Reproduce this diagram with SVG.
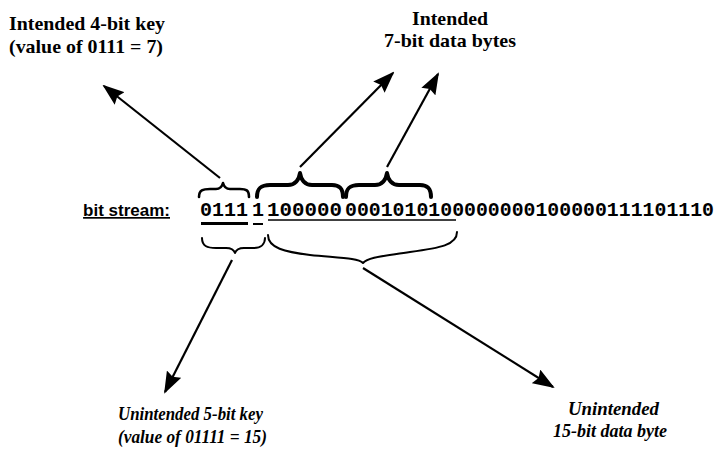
<svg xmlns="http://www.w3.org/2000/svg" width="718" height="452" viewBox="0 0 718 452">
<style>
.lbl{font-family:"Liberation Serif","Times New Roman",serif;font-weight:bold;font-size:19px;fill:#000}
.it{font-style:italic;font-size:18px}
.bits{font-family:"Liberation Mono","Courier New",monospace;font-weight:bold;font-size:20px;fill:#000}
.bs{font-family:"Liberation Sans",Arial,sans-serif;font-weight:bold;font-size:17px;fill:#000;text-decoration:underline}
.br{fill:none;stroke:#000;stroke-linecap:round;stroke-linejoin:round}
.ar{fill:none;stroke:#000;stroke-width:2.2;marker-end:url(#ah)}
.ul{stroke:#000;fill:none}
</style>
<defs>
<marker id="ah" markerUnits="userSpaceOnUse" markerWidth="22" markerHeight="16" viewBox="0 0 22 16" refX="20" refY="8" orient="auto">
<path d="M0,0 L22,8 L0,16 L3,8 Z" fill="#000"/>
</marker>
</defs>
<g id="label-intended-key">
<text class="lbl" x="9" y="30" textLength="156" lengthAdjust="spacingAndGlyphs">Intended 4-bit key</text>
<text class="lbl" x="9" y="53" textLength="154" lengthAdjust="spacingAndGlyphs">(value of 0111 = 7)</text>
</g>
<g id="label-intended-data">
<text class="lbl" x="412" y="25" textLength="76" lengthAdjust="spacingAndGlyphs">Intended</text>
<text class="lbl" x="384" y="47" textLength="132" lengthAdjust="spacingAndGlyphs">7-bit data bytes</text>
</g>
<g id="label-unintended-key">
<text class="lbl it" x="118" y="420" textLength="145" lengthAdjust="spacingAndGlyphs">Unintended 5-bit key</text>
<text class="lbl it" x="118" y="443" textLength="149" lengthAdjust="spacingAndGlyphs">(value of 01111 = 15)</text>
</g>
<g id="label-unintended-data">
<text class="lbl it" x="568" y="415" textLength="91" lengthAdjust="spacingAndGlyphs">Unintended</text>
<text class="lbl it" x="553" y="437" textLength="114" lengthAdjust="spacingAndGlyphs">15-bit data byte</text>
</g>
<g id="bitstream">
<text class="bs" x="170" y="216" text-anchor="end">bit stream:</text>
<text class="bits" x="200" y="216" textLength="48" lengthAdjust="spacingAndGlyphs">0111</text>
<text class="bits" x="252" y="216">1</text>
<text class="bits" x="267" y="216" textLength="75" lengthAdjust="spacingAndGlyphs">100000</text>
<text class="bits" x="345" y="216" textLength="369" lengthAdjust="spacingAndGlyphs">0001010100000000100000111101110</text>
<line class="ul" x1="201" y1="223.5" x2="248" y2="223.5" stroke-width="3"/>
<line class="ul" x1="253" y1="224" x2="263" y2="224" stroke-width="2"/>
<line class="ul" x1="268" y1="220" x2="456" y2="220" stroke-width="1.6"/>
</g>
<g id="braces">
<path class="br" stroke-width="2.6" d="M199,197 C199,190 203,189 210,189 L216,189 C220,189 222,187 223,183 C224,187 226,189 230,189 L240,189 C246,189 249,190 249,197"/>
<path class="br" stroke-width="4" d="M257,197 C257,188 261,185 270,185 L288,185 C295,185 299,180 300,173 C301,180 305,185 312,185 L332,185 C339,185 343,188 343,197"/>
<path class="br" stroke-width="4" d="M346,197 C346,188 350,185 359,185 L375,185 C382,185 386,180 387,173 C388,180 392,185 399,185 L420,185 C427,185 431,188 431,197"/>
<path class="br" stroke-width="2" d="M202,238 C202,246 207,248 216,248 L226,248 C231,248 234,250 235,253 C236,250 239,248 244,248 L254,248 C261,248 265,244 265,238"/>
<path class="br" stroke-width="2" d="M268,235 C268,248 285,252 310,255 C340,258 358,258 363,263 C368,257 385,256 410,252 C440,248 457,245 457,232"/>
</g>
<g id="connectors">
<line class="ar" x1="220" y1="178" x2="104" y2="86"/>
<line class="ar" x1="300" y1="167" x2="393" y2="73"/>
<line class="ar" x1="387" y1="167" x2="438" y2="74"/>
<line class="ar" x1="232" y1="260" x2="165" y2="392"/>
<line class="ar" x1="363" y1="268" x2="553" y2="387"/>
</g>
</svg>
